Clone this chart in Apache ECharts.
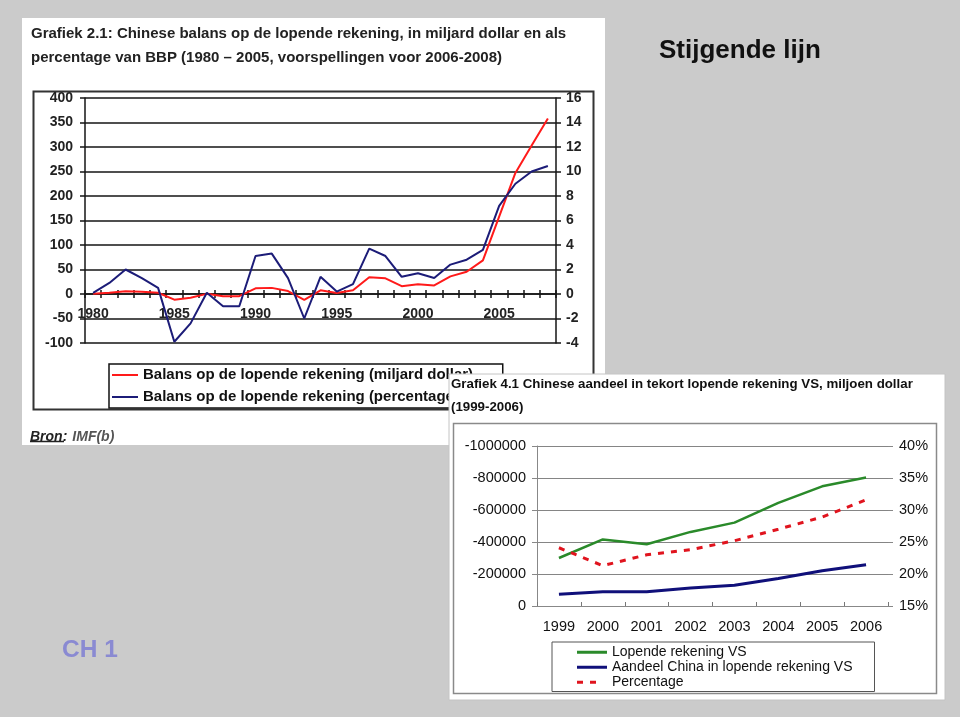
<!DOCTYPE html>
<html><head><meta charset="utf-8">
<script src="https://cdn.jsdelivr.net/npm/echarts@6/dist/echarts.min.js"></script>
<style>html,body{margin:0;padding:0;background:#cbcbcb}#c{width:960px;height:717px}</style>
</head><body><div id="c"></div>
<script>
// ---- Chart 1 (Grafiek 2.1) ----
const years1 = ['1980','1981','1982','1983','1984','1985','1986','1987','1988','1989','1990','1991','1992','1993','1994','1995','1996','1997','1998','1999','2000','2001','2002','2003','2004','2005','2006','2007','2008'];
const balansMiljard = [0.5, 2.5, 5.5, 4.5, 2.5, -11.5, -7.5, 0.3, -4.5, -4.5, 11.5, 12.5, 6, -12, 7.5, 2, 7.5, 34, 32, 16, 20, 17.5, 36, 45.5, 68.5, 158, 247, 303, 358];
const balansPct = [0.1, 0.9, 2.0, 1.3, 0.5, -3.9, -2.4, 0.1, -1.0, -1.0, 3.1, 3.3, 1.3, -2.0, 1.4, 0.2, 0.8, 3.7, 3.1, 1.4, 1.7, 1.3, 2.4, 2.8, 3.6, 7.2, 9.0, 10.0, 10.45];
const names1 = ['Balans op de lopende rekening (miljard dollar)', 'Balans op de lopende rekening (percentage BBP)'];

// ---- Chart 2 (Grafiek 4.1) ----
const years2 = ['1999','2000','2001','2002','2003','2004','2005','2006'];
const lopendeVS = [-300000, -416000, -386000, -463000, -521000, -645000, -748000, -803000];
const aandeelChina = [-74000, -89000, -89000, -112000, -130000, -172000, -220000, -258000];
const percentage = [24.1, 21.3, 23.0, 23.8, 25.2, 27.0, 28.9, 31.6];
const names2 = ['Lopende rekening VS', 'Aandeel China in lopende rekening VS', 'Percentage'];

const F = '"Liberation Sans", Arial, sans-serif';
const chart = echarts.init(document.getElementById('c'), null, {renderer: 'canvas'});
const dark = '#151515';
const dashIcon = 'path://M0,0h6v3h-6z M13,0h6v3h-6z M30,0L30,3';
const option = {
  backgroundColor: '#cbcbcb',
  animation: false,
  title: [
    {text: 'Grafiek 2.1: Chinese balans op de lopende rekening, in miljard dollar en als\npercentage van BBP (1980 – 2005, voorspellingen voor 2006-2008)',
     left: 31, top: 22, padding: 0,
     textStyle: {fontFamily: F, fontSize: 15, fontWeight: 'bold', color: '#222', lineHeight: 24}},
    {text: 'Grafiek 4.1 Chinese aandeel in tekort lopende rekening VS, miljoen dollar\n(1999-2006)',
     left: 451, top: 373, padding: 0, z: 20,
     textStyle: {fontFamily: F, fontSize: 13.3, fontWeight: 'bold', color: '#111', lineHeight: 23}},
    {text: 'Stijgende lijn', left: 659, top: 38, padding: 0,
     textStyle: {fontFamily: F, fontSize: 26, fontWeight: 'bold', color: '#111'}},
    {text: 'CH 1', left: 62, top: 638, padding: 0,
     textStyle: {fontFamily: F, fontSize: 24.5, fontWeight: 'bold', color: '#8a8ad2'}},
    {text: '{b|Bron:} {g|IMF(b)}', left: 30, top: 428, padding: 0,
     textStyle: {rich: {
       b: {fontFamily: F, fontSize: 14, fontStyle: 'italic', color: '#222'},
       g: {fontFamily: F, fontSize: 14, fontStyle: 'italic', color: '#555'}}}}
  ],
  graphic: [
    {type: 'rect', z: -10, shape: {x: 22, y: 18, width: 583, height: 427}, style: {fill: '#ffffff'}},
    {type: 'rect', z: -9, shape: {x: 33.5, y: 91.5, width: 560, height: 318}, style: {fill: 'none', stroke: '#333', lineWidth: 2}},
    {type: 'line', z: 1, shape: {x1: 30, y1: 441.5, x2: 64, y2: 441.5}, style: {stroke: '#222', lineWidth: 1.5}},
    {type: 'rect', z: 10, shape: {x: 449, y: 374, width: 496, height: 326}, style: {fill: '#ffffff', stroke: '#c4c4c4', lineWidth: 1}},
    {type: 'rect', z: 11, shape: {x: 453.5, y: 423.5, width: 483, height: 270}, style: {fill: 'none', stroke: '#8a8a8a', lineWidth: 1.5}}
  ],
  grid: [
    {left: 85, top: 98, width: 471, height: 245},
    {left: 537, top: 446, width: 351, height: 160, z: 15}
  ],
  xAxis: [
    {gridIndex: 0, type: 'category', data: years1, boundaryGap: true, position: 'bottom', offset: -49,
     axisLine: {onZero: false, lineStyle: {color: dark, width: 1.5}},
     axisTick: {show: true, interval: 0, length: 4, lineStyle: {color: dark, width: 1.5}},
     axisLabel: {interval: 4, margin: 13, fontFamily: F, fontSize: 14, fontWeight: 'bold', color: '#222'},
     splitLine: {show: false}},
    {gridIndex: 0, type: 'category', data: years1, boundaryGap: true, position: 'top', offset: -196,
     axisLine: {onZero: false, show: false},
     axisTick: {show: true, interval: 0, length: 4, lineStyle: {color: dark, width: 1.5}},
     axisLabel: {show: false}, splitLine: {show: false}},
    {gridIndex: 1, type: 'category', data: years2, boundaryGap: true, z: 15,
     axisLine: {lineStyle: {color: '#888', width: 1}},
     axisTick: {show: true, inside: true, length: 4, lineStyle: {color: '#777'}},
     axisLabel: {margin: 13, fontFamily: F, fontSize: 14.5, color: '#111'},
     splitLine: {show: false}}
  ],
  yAxis: [
    {gridIndex: 0, type: 'value', min: -100, max: 400, interval: 50, position: 'left',
     axisLine: {show: true, lineStyle: {color: dark, width: 1.5}},
     axisTick: {show: true, length: 5, lineStyle: {color: dark, width: 1.5}},
     axisLabel: {margin: 12, fontFamily: F, fontSize: 14, fontWeight: 'bold', color: '#222'},
     splitLine: {show: true, lineStyle: {color: dark, width: 1.5}}},
    {gridIndex: 0, type: 'value', min: -4, max: 16, interval: 2, position: 'right',
     axisLine: {show: true, lineStyle: {color: dark, width: 1.5}},
     axisTick: {show: true, length: 5, lineStyle: {color: dark, width: 1.5}},
     axisLabel: {margin: 10, fontFamily: F, fontSize: 14, fontWeight: 'bold', color: '#222'},
     splitLine: {show: false}},
    {gridIndex: 1, type: 'value', inverse: true, min: -1000000, max: 0, interval: 200000, position: 'left', z: 15,
     axisLine: {show: true, lineStyle: {color: '#888', width: 1}},
     axisTick: {show: true, length: 5, lineStyle: {color: '#888'}},
     axisLabel: {margin: 11, fontFamily: F, fontSize: 14.5, color: '#111', formatter: v => String(v)},
     splitLine: {show: true, lineStyle: {color: '#858585', width: 1}}},
    {gridIndex: 1, type: 'value', min: 15, max: 40, interval: 5, position: 'right', z: 15,
     axisLine: {show: false},
     axisTick: {show: true, length: 5, lineStyle: {color: '#888'}},
     axisLabel: {margin: 11, fontFamily: F, fontSize: 14.5, color: '#111', formatter: '{value}%'},
     splitLine: {show: false}}
  ],
  legend: [
    {data: names1.map(n => ({name: n, icon: 'rect'})), orient: 'vertical', left: 109, top: 364, z: 4,
     itemWidth: 26, itemHeight: 2, itemGap: 4, padding: [2, 8, 2, 3],
     borderColor: '#111', borderWidth: 1.5, backgroundColor: '#fff',
     textStyle: {fontFamily: F, fontSize: 15, fontWeight: 'bold', color: '#111', lineHeight: 18}},
    {data: [{name: names2[0], icon: 'rect'}, {name: names2[1], icon: 'rect'}, {name: names2[2], icon: dashIcon}],
     orient: 'vertical', left: 552, top: 642, z: 20,
     itemWidth: 30, itemHeight: 3, itemGap: 0.5, padding: [3, 22, 2, 25],
     borderColor: '#555', borderWidth: 1, backgroundColor: '#fff',
     textStyle: {fontFamily: F, fontSize: 14, color: '#111', lineHeight: 14.5}}
  ],
  series: [
    {name: names1[0], type: 'line', xAxisIndex: 0, yAxisIndex: 0, data: balansMiljard, symbol: 'none',
     itemStyle: {color: '#ff1a1a'}, lineStyle: {color: '#ff1a1a', width: 2}},
    {name: names1[1], type: 'line', xAxisIndex: 0, yAxisIndex: 1, data: balansPct, symbol: 'none',
     itemStyle: {color: '#1c1c78'}, lineStyle: {color: '#1c1c78', width: 2}},
    {name: names2[0], type: 'line', xAxisIndex: 2, yAxisIndex: 2, data: lopendeVS, symbol: 'none', z: 20,
     itemStyle: {color: '#2a8a2a'}, lineStyle: {color: '#2a8a2a', width: 2.5}},
    {name: names2[1], type: 'line', xAxisIndex: 2, yAxisIndex: 2, data: aandeelChina, symbol: 'none', z: 20,
     itemStyle: {color: '#10107a'}, lineStyle: {color: '#10107a', width: 3}},
    {name: names2[2], type: 'line', xAxisIndex: 2, yAxisIndex: 3, data: percentage, symbol: 'none', z: 20,
     itemStyle: {color: '#e0141e'}, lineStyle: {color: '#e0141e', width: 3, type: [6, 7]}}
  ]
};
chart.setOption(option);
</script></body></html>
